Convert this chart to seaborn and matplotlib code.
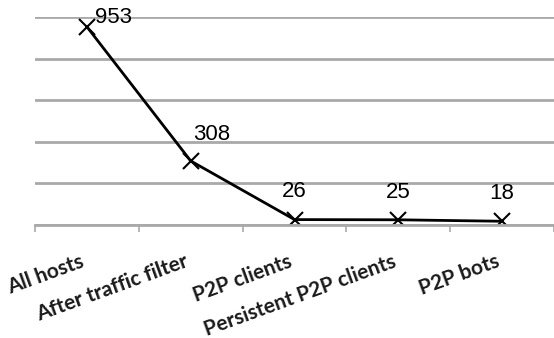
import numpy as np
import matplotlib
matplotlib.use("Agg")
import matplotlib.pyplot as plt
import seaborn as sns

stages = ["All hosts", "After traffic filter", "P2P clients", "Persistent P2P clients", "P2P bots"]
hosts = [953, 308, 26, 25, 18]
y_ticks = [0, 200, 400, 600, 800, 1000]

# label offsets in points (dx, dy) -- the first two sit a bit to the right
label_offsets = [(19, 7), (15, 19), (0, 20), (0, 20), (0, 20)]

sns.set_style("white")
plt.rcParams["font.family"] = ["Liberation Sans", "DejaVu Sans"]

fig = plt.figure(figsize=(5.54, 3.38), dpi=100)
ax = fig.add_axes([35 / 554, 1 - 225 / 338, 1 - 35 / 554, (225 - 17) / 338])

sns.pointplot(x=stages, y=hosts, color="black", markers="x", linestyles="-",
              markersize=11, linewidth=2, ax=ax)

ax.set_xlim(-0.5, 4.5)
ax.set_ylim(0, 1000)
ax.set_yticks(y_ticks)
ax.yaxis.grid(True, color="#a9a9a9", linewidth=2)
ax.set_axisbelow(True)
ax.tick_params(axis="y", left=False, labelleft=False)
for side in ["left", "right", "top"]:
    ax.spines[side].set_visible(False)
ax.spines["bottom"].set_color("#a9a9a9")
ax.spines["bottom"].set_linewidth(2)

ax.set_xticks(np.arange(-0.5, 5, 1), minor=True)
ax.tick_params(axis="x", which="minor", length=5, width=1.2, color="#a9a9a9", bottom=True)
ax.tick_params(axis="x", which="major", length=0, pad=19)
ax.set_xticklabels(stages, rotation=20, ha="right", va="top",
                   fontsize=15, fontweight="bold", color="#1a1a1a",
                   family=["Lato", "DejaVu Sans"])

for i, v in enumerate(hosts):
    dx, dy = label_offsets[i]
    ax.annotate(str(v), xy=(i, v), xytext=(dx, dy), textcoords="offset points",
                ha="center", va="center", fontsize=16, color="black")

ax.set_xlabel("")
ax.set_ylabel("")
fig.savefig("out.png", dpi=100)
